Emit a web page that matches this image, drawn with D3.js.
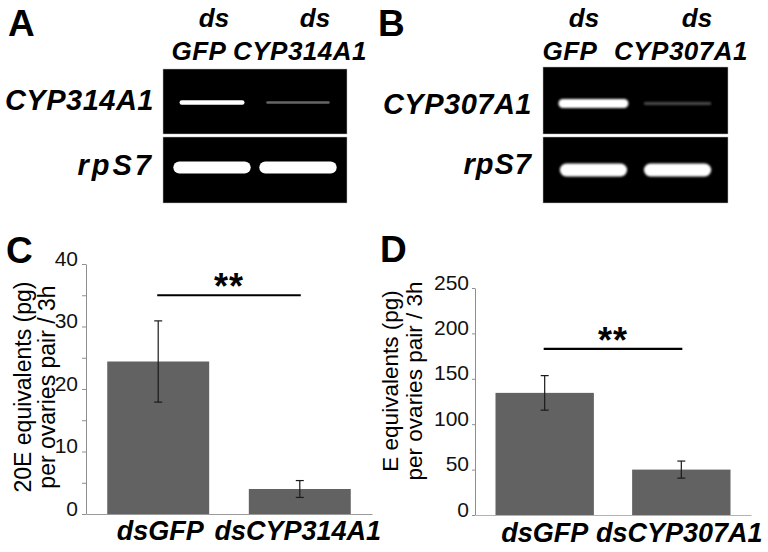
<!DOCTYPE html>
<html>
<head>
<meta charset="utf-8">
<script src="https://cdn.jsdelivr.net/npm/d3@7"></script>
<style>
  body { margin: 0; background: #fff; }
  svg text { font-family: "Liberation Sans", Arial, sans-serif; }
</style>
</head>
<body>
<div id="fig"></div>
<script>
// ---- data ----
var lanesA = ["dsGFP", "dsCYP314A1"];
var lanesB = ["dsGFP", "dsCYP307A1"];
// relative band brightness
var targetA = [1.0, 0.4];
var rpsA = [1.0, 1.0];
var targetB = [1.0, 0.35];
var rpsB = [1.0, 1.0];

var catsC = ["dsGFP", "dsCYP314A1"];
var valsC = [24.4, 4.0];
var errC = [6.5, 1.35];
var ticksC = [0, 5, 10, 15, 20, 25, 30, 35, 40];
var sigC = 35;

var catsD = ["dsGFP", "dsCYP307A1"];
var valsD = [134.5, 50];
var errD = [19, 9.4];
var ticksD = [0, 50, 100, 150, 200, 250];
var sigD = 183;

var width = 768, height = 552;

var svg = d3.select("#fig").append("svg")
  .attr("width", width)
  .attr("height", height);

var defs = svg.append("defs");
defs.append("filter").attr("id", "blurA")
  .attr("x", "-20%").attr("y", "-200%").attr("width", "140%").attr("height", "500%")
  .append("feGaussianBlur").attr("stdDeviation", 0.6);
defs.append("filter").attr("id", "blurB")
  .attr("x", "-20%").attr("y", "-200%").attr("width", "140%").attr("height", "500%")
  .append("feGaussianBlur").attr("stdDeviation", 1.1);

// panel letters
svg.selectAll(".plabel")
  .data([["A", 8, 36], ["B", 378, 36], ["C", 6, 263], ["D", 380, 262]])
  .enter().append("text")
  .attr("class", "plabel")
  .attr("x", d => d[1])
  .attr("y", d => d[2])
  .attr("font-size", "37px")
  .attr("font-weight", "bold")
  .text(d => d[0]);

// ---- gels ----
function drawGel(opt) {
  var g = svg.append("g");
  var x = d3.scaleBand()
    .domain(opt.lanes)
    .range([opt.x0, opt.x1])
    .paddingInner(opt.pin)
    .paddingOuter(opt.pout);

  // two black panels
  g.append("rect").attr("x", opt.x0).attr("y", opt.top[0])
    .attr("width", opt.x1 - opt.x0).attr("height", opt.top[1] - opt.top[0])
    .attr("fill", "#000").attr("stroke", "#bbb").attr("stroke-width", 0.5);
  g.append("rect").attr("x", opt.x0).attr("y", opt.bot[0])
    .attr("width", opt.x1 - opt.x0).attr("height", opt.bot[1] - opt.bot[0])
    .attr("fill", "#000").attr("stroke", "#bbb").attr("stroke-width", 0.5);

  var bright = d3.scaleLinear().domain([0, 1]).range(["#000", "#fff"]);

  // target gene bands
  g.selectAll(".tband")
    .data(opt.target)
    .enter().append("rect")
    .attr("class", "tband")
    .attr("x", (d, i) => x(opt.lanes[i]) + x.bandwidth() * opt.tInset[i])
    .attr("width", (d, i) => x.bandwidth() * (1 - 2 * opt.tInset[i]))
    .attr("y", (d, i) => opt.tY - opt.tH[i] / 2)
    .attr("height", (d, i) => opt.tH[i])
    .attr("rx", (d, i) => opt.tH[i] / 2)
    .attr("fill", d => bright(d))
    .attr("filter", "url(#" + opt.blur + ")");

  // rpS7 bands
  g.selectAll(".rband")
    .data(opt.rps)
    .enter().append("rect")
    .attr("class", "rband")
    .attr("x", (d, i) => x(opt.lanes[i]))
    .attr("width", x.bandwidth())
    .attr("y", opt.rY - opt.rH / 2)
    .attr("height", opt.rH)
    .attr("rx", opt.rH / 2)
    .attr("fill", d => bright(d))
    .attr("filter", "url(#" + opt.blur + ")");

  // lane headers
  var heads = g.selectAll(".head")
    .data(opt.lanes)
    .enter().append("g");
  heads.append("text")
    .attr("x", (d, i) => opt.dsX[i])
    .attr("y", 27)
    .attr("text-anchor", "middle")
    .attr("font-size", "26px")
    .attr("font-weight", "bold")
    .attr("font-style", "italic")
    .text("ds");
  heads.append("text")
    .attr("x", (d, i) => opt.nameX[i])
    .attr("y", 60)
    .attr("text-anchor", "middle")
    .attr("font-size", "26px")
    .attr("font-weight", "bold")
    .attr("font-style", "italic")
    .attr("letter-spacing", "0.5px")
    .text(d => d.replace("ds", ""));

  // row labels
  g.append("text")
    .attr("x", opt.labX).attr("y", opt.tLabY)
    .attr("text-anchor", "end")
    .attr("font-size", "29px").attr("font-weight", "bold").attr("font-style", "italic")
    .attr("letter-spacing", "0.5px")
    .text(opt.gene);
  g.append("text")
    .attr("x", opt.labX).attr("y", opt.rLabY)
    .attr("text-anchor", "end")
    .attr("font-size", "29px").attr("font-weight", "bold").attr("font-style", "italic")
    .attr("letter-spacing", opt.rpsSpacing)
    .text("rpS7");
}

drawGel({
  lanes: lanesA, target: targetA, rps: rpsA, gene: "CYP314A1",
  x0: 163, x1: 347, pin: 0.1, pout: 0.12,
  top: [69, 134], bot: [137, 203],
  tY: 102.5, tH: [4.5, 2.5], tInset: [0.08, 0.09],
  rY: 167.5, rH: 12,
  blur: "blurA",
  dsX: [214, 315], nameX: [199, 300],
  labX: 154, tLabY: 110, rLabY: 175, rpsSpacing: "3px"
});

drawGel({
  lanes: lanesB, target: targetB, rps: rpsB, gene: "CYP307A1",
  x0: 543, x1: 728, pin: 0.2, pout: 0.2,
  top: [67, 134], bot: [137, 203],
  tY: 103.5, tH: [9, 2.5], tInset: [-0.02, 0.0],
  rY: 170, rH: 13,
  blur: "blurB",
  dsX: [584, 697], nameX: [570, 681],
  labX: 532, tLabY: 114, rLabY: 174, rpsSpacing: "1px"
});

// ---- bar charts ----
function drawBars(opt) {
  var g = svg.append("g");

  var x = d3.scaleBand()
    .domain(opt.cats)
    .range([opt.x0, opt.x1])
    .paddingInner(0.28)
    .paddingOuter(0.15);

  var y = d3.scaleLinear()
    .domain([0, opt.ymax])
    .range([opt.y0, opt.y1]);

  // bars
  g.selectAll(".bar")
    .data(opt.vals)
    .enter().append("rect")
    .attr("class", "bar")
    .attr("x", (d, i) => x(opt.cats[i]))
    .attr("width", x.bandwidth())
    .attr("y", d => y(d))
    .attr("height", d => y(0) - y(d))
    .attr("fill", "#626262");

  // error bars
  var eb = g.selectAll(".err")
    .data(opt.vals)
    .enter().append("g")
    .attr("class", "err")
    .attr("stroke", "#1a1a1a")
    .attr("stroke-width", 1.2);
  eb.append("line")
    .attr("x1", (d, i) => x(opt.cats[i]) + x.bandwidth() / 2)
    .attr("x2", (d, i) => x(opt.cats[i]) + x.bandwidth() / 2)
    .attr("y1", (d, i) => y(d + opt.err[i]))
    .attr("y2", (d, i) => y(d - opt.err[i]));
  [1, -1].forEach(function(s) {
    eb.append("line")
      .attr("x1", (d, i) => x(opt.cats[i]) + x.bandwidth() / 2 - 4)
      .attr("x2", (d, i) => x(opt.cats[i]) + x.bandwidth() / 2 + 4)
      .attr("y1", (d, i) => y(d + s * opt.err[i]))
      .attr("y2", (d, i) => y(d + s * opt.err[i]));
  });

  // y axis
  var ya = g.append("g")
    .attr("transform", "translate(" + opt.x0 + ",0)")
    .call(d3.axisLeft(y)
      .tickValues(opt.ticks)
      .tickSize(opt.tickLen)
      .tickSizeOuter(0)
      .tickPadding(opt.tickPad)
      .tickFormat(d => opt.labelEvery && d % opt.labelEvery !== 0 ? "" : d));
  ya.select(".domain").attr("stroke", "#8f8f8f");
  ya.selectAll(".tick line").attr("stroke", "#8f8f8f");
  ya.selectAll(".tick text")
    .attr("dy", "0.05em")
    .attr("font-size", "21px")
    .attr("font-family", "Liberation Sans, Arial, sans-serif")
    .attr("fill", "#111");

  // x axis
  var xa = g.append("g")
    .attr("transform", "translate(0," + y(0) + ")")
    .call(d3.axisBottom(x).tickSize(0).tickSizeOuter(0).tickPadding(opt.catPad));
  xa.select(".domain").attr("stroke", opt.xAxisColor).attr("stroke-width", 1.2);
  xa.selectAll(".tick text")
    .attr("font-size", "27px")
    .attr("font-weight", "bold")
    .attr("font-style", "italic")
    .attr("font-family", "Liberation Sans, Arial, sans-serif")
    .attr("fill", "#000")
    .attr("dx", (d, i) => opt.catDx[i]);

  // significance
  var xa1 = x(opt.cats[0]) + x.bandwidth() / 2;
  var xa2 = x(opt.cats[1]) + x.bandwidth() / 2;
  g.append("line")
    .attr("x1", xa1 - 1).attr("x2", xa2 + 1)
    .attr("y1", y(opt.sig)).attr("y2", y(opt.sig))
    .attr("stroke", "#000").attr("stroke-width", 2.2);
  g.append("text")
    .attr("x", (xa1 + xa2) / 2)
    .attr("y", y(opt.sig) + 4)
    .attr("text-anchor", "middle")
    .attr("font-size", "36px")
    .attr("font-weight", "bold")
    .attr("letter-spacing", "1px")
    .text("**");

  // y label
  var lab = g.append("text")
    .attr("transform", "translate(" + opt.labX + "," + opt.labY + ") rotate(-90)")
    .attr("text-anchor", "middle")
    .attr("font-size", opt.labSize);
  lab.append("tspan").attr("x", 0).attr("y", 0).text(opt.ylab[0]);
  lab.append("tspan").attr("x", 0).attr("y", opt.labGap).text(opt.ylab[1]);
}

drawBars({
  cats: catsC, vals: valsC, err: errC, ticks: ticksC, ymax: 40, sig: sigC,
  x0: 86, x1: 372, y0: 514, y1: 264,
  tickLen: 4, tickPad: 4, labelEvery: 10,
  xAxisColor: "#9a9a9a", catPad: 7, catDx: [2, -2],
  labX: 31, labY: 387, labSize: "23px", labGap: 24,
  ylab: ["20E equivalents (pg)", "per ovaries pair / 3h"]
});

drawBars({
  cats: catsD, vals: valsD, err: errD, ticks: ticksD, ymax: 250, sig: sigD,
  x0: 475, x1: 751, y0: 515, y1: 288,
  tickLen: 3, tickPad: 3, labelEvery: 0,
  xAxisColor: "#9db5d6", catPad: 8, catDx: [0, -2],
  labX: 398, labY: 381, labSize: "22.5px", labGap: 24,
  ylab: ["E equivalents (pg)", "per ovaries pair / 3h"]
});
</script>
</body>
</html>
